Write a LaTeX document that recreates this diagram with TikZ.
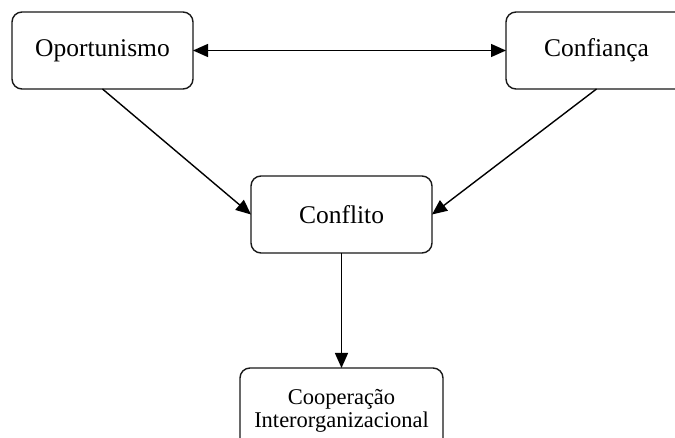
\documentclass[tikz,border=0pt]{standalone}
\usepackage{fontspec}
\setmainfont{Liberation Serif}
\usetikzlibrary{arrows.meta}
\begin{document}
\begin{tikzpicture}[x=1pt,y=-1pt,
  box/.style={draw=black!90, line width=1.4pt, rounded corners=10pt,
    fill=white, align=center, inner sep=0pt, outer sep=0pt},
  tip/.tip={Triangle[length=15pt,width=13pt]},
  link/.style={draw=black, line width=1.4pt, -tip}]
  \useasboundingbox (0,0) rectangle (675,438);
  \clip (0,0) rectangle (675,438);
  \fill[white] (0,0) rectangle (675,438);

  % upper row
  \node[box, minimum width=181pt, minimum height=77pt,
        font=\fontsize{25.5}{28}\selectfont] (op) at (102.5,50.5) {Oportunismo};
  \node[box, minimum width=181pt, minimum height=77pt,
        font=\fontsize{25.5}{28}\selectfont] (conf) at (596.5,50.5) {Confiança};

  % middle
  \node[box, minimum width=181pt, minimum height=77pt,
        font=\fontsize{25.5}{28}\selectfont] (cf) at (341.5,214.5) {Conflito};

  % bottom, running past the lower edge
  \node[box, minimum width=203pt, minimum height=86pt,
        font=\fontsize{22.5}{23.5}\selectfont] (coop) at (341.5,411)
        {Cooperação\\Interorganizacional};

  % connectors
  \draw[link, tip-tip] (op.east) -- (conf.west);
  \draw[link] (op.south) -- (cf.west);
  \draw[link] (conf.south) -- (cf.east);
  \draw[link] (cf.south) -- (coop.north);
\end{tikzpicture}
\end{document}
